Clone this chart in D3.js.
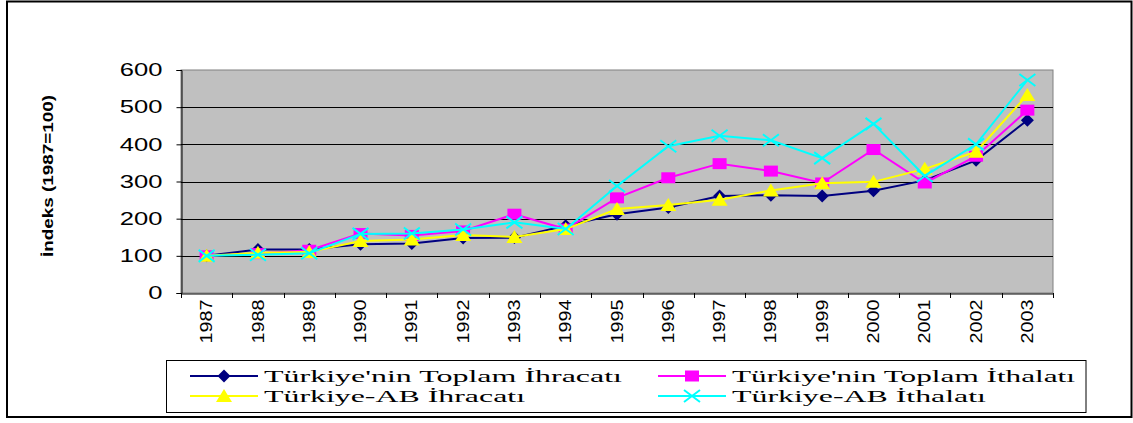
<!DOCTYPE html>
<html><head><meta charset="utf-8">
<script src="https://cdn.jsdelivr.net/npm/d3@7"></script>
<style>html,body{margin:0;padding:0;background:#fff;}svg{display:block;}</style>
</head><body>
<svg id="chart" width="1133" height="423"></svg>
<script>
const years = ["1987","1988","1989","1990","1991","1992","1993","1994","1995","1996","1997","1998","1999","2000","2001","2002","2003"];
const toplamIhracat = [100,117,117,131,133,148,149,181,212,230,261,263,261,275,303,357,465];
const toplamIthalat = [100,106,115,160,155,167,212,172,256,310,348,328,296,386,296,368,492];
const abIhracat     = [100,108,110,140,144,156,151,172,226,237,251,276,295,299,334,380,533];
const abIthalat     = [100,103,107,159,160,171,190,172,288,395,423,411,363,455,315,400,573];
const seriesNames = ["Türkiye'nin Toplam İhracatı","Türkiye'nin Toplam İthalatı","Türkiye-AB İhracatı","Türkiye-AB İthalatı"];
const yTicks = [0,100,200,300,400,500,600];
const yTitle = "İndeks (1987=100)";

const svg = d3.select("#chart");
const L=181, R=1053, T=70, B=293;
const x = d3.scaleBand().domain(years).range([L,R]);
const y = d3.scaleLinear().domain([0,600]).range([B,T]);
const cx = d => x(d) + x.bandwidth()/2;

// outer border
svg.append("rect").attr("x",7).attr("y",1.5).attr("width",1124.5).attr("height",415.5)
  .attr("fill","#fff").attr("stroke","#000").attr("stroke-width",2);

// plot area
svg.append("rect").attr("x",L).attr("y",T).attr("width",R-L).attr("height",B-T)
  .attr("fill","#C0C0C0").attr("stroke","#808080").attr("stroke-width",1);

// gridlines
svg.append("g").selectAll("line").data(yTicks.filter(v=>v>0 && v<600)).join("line")
  .attr("x1",L).attr("x2",R).attr("y1",d=>Math.round(y(d))+0.5).attr("y2",d=>Math.round(y(d))+0.5)
  .attr("stroke","#000").attr("stroke-width",1);

// y axis
const yAx = svg.append("g").attr("transform",`translate(${L+0.5},0)`)
  .call(d3.axisLeft(y).tickValues(yTicks).tickSize(5).tickPadding(14).tickFormat(d3.format("d")));
yAx.select(".domain").attr("stroke","#000");
yAx.selectAll(".tick line").attr("stroke","#000");
yAx.selectAll(".tick text").attr("font-family","Liberation Sans, Arial, sans-serif")
  .attr("font-size",18).attr("fill","#000")
  .each(function(){ const n=this.getComputedTextLength(); d3.select(this).attr("textLength",n*1.42).attr("lengthAdjust","spacingAndGlyphs"); });

// x axis
const xAx = svg.append("g").attr("transform",`translate(0,${B+0.5})`)
  .call(d3.axisBottom(x).tickSize(0).tickFormat(d=>d));
xAx.select(".domain").attr("stroke","#000");
xAx.selectAll(".tick text").attr("font-family","Liberation Sans, Arial, sans-serif")
  .attr("font-size",16).attr("fill","#000")
  .attr("transform","rotate(-90)").attr("text-anchor","end")
  .attr("x",-6).attr("y",0).attr("dy","0.35em")
  .attr("textLength",44).attr("lengthAdjust","spacingAndGlyphs");
// boundary ticks
svg.append("g").selectAll("line").data(years.concat(["end"])).join("line")
  .attr("x1",(d,i)=>Math.round(L+i*x.bandwidth())+0.5).attr("x2",(d,i)=>Math.round(L+i*x.bandwidth())+0.5)
  .attr("y1",B).attr("y2",B+5).attr("stroke","#000");

// y title
svg.append("text").attr("transform","translate(53,176) rotate(-90)")
  .attr("text-anchor","middle").attr("font-family","Liberation Sans, Arial, sans-serif")
  .attr("font-weight","bold").attr("font-size",15).attr("fill","#000")
  .attr("textLength",162).attr("lengthAdjust","spacingAndGlyphs").text(yTitle);

// markers
const markers = {
  diamond: (g,c)=>g.append("path").attr("d","M0,-6.5L6.5,0L0,6.5L-6.5,0Z").attr("fill",c),
  square: (g,c)=>g.append("rect").attr("x",-7).attr("y",-5.5).attr("width",14).attr("height",11).attr("fill",c),
  triangle:(g,c)=>g.append("path").attr("d","M0,-7L8,6L-8,6Z").attr("fill",c),
  x: (g,c)=>g.append("path").attr("d","M-8,-6L8,6M-8,6L8,-6").attr("stroke",c).attr("stroke-width",2).attr("fill","none")
};
const series = [
  {vals:toplamIhracat,color:"#000080",m:"diamond"},
  {vals:toplamIthalat,color:"#FF00FF",m:"square"},
  {vals:abIhracat,color:"#FFFF00",m:"triangle"},
  {vals:abIthalat,color:"#00FFFF",m:"x"}
];
const line = d3.line().x((d,i)=>cx(years[i])).y(d=>y(d));
series.forEach(s=>{
  const g = svg.append("g");
  g.append("path").datum(s.vals).attr("d",line).attr("fill","none").attr("stroke",s.color).attr("stroke-width",2);
  g.selectAll("g").data(s.vals).join("g")
    .attr("transform",(d,i)=>`translate(${cx(years[i])},${y(d)})`)
    .each(function(){ markers[s.m](d3.select(this),s.color); });
});

// legend
svg.append("rect").attr("x",166.5).attr("y",360.5).attr("width",919.5).attr("height",52)
  .attr("fill","#fff").attr("stroke","#000").attr("stroke-width",1);
const legPos = [[190,376,358],[658,376,343],[190,396,261],[658,396,254]];
series.forEach((s,i)=>{
  const [lx,ly,tw]=legPos[i];
  const g = svg.append("g");
  g.append("line").attr("x1",lx).attr("x2",lx+68).attr("y1",ly).attr("y2",ly).attr("stroke",s.color).attr("stroke-width",2);
  const mg = g.append("g").attr("transform",`translate(${lx+34},${ly})`);
  markers[s.m](mg,s.color);
  g.append("text").attr("x",lx+74).attr("y",ly).attr("dy","0.35em")
    .attr("font-family","Liberation Serif, Times New Roman, serif").attr("font-size",17).attr("fill","#000")
    .attr("textLength",tw).attr("lengthAdjust","spacingAndGlyphs").text(seriesNames[i]);
});
</script>
</body></html>
